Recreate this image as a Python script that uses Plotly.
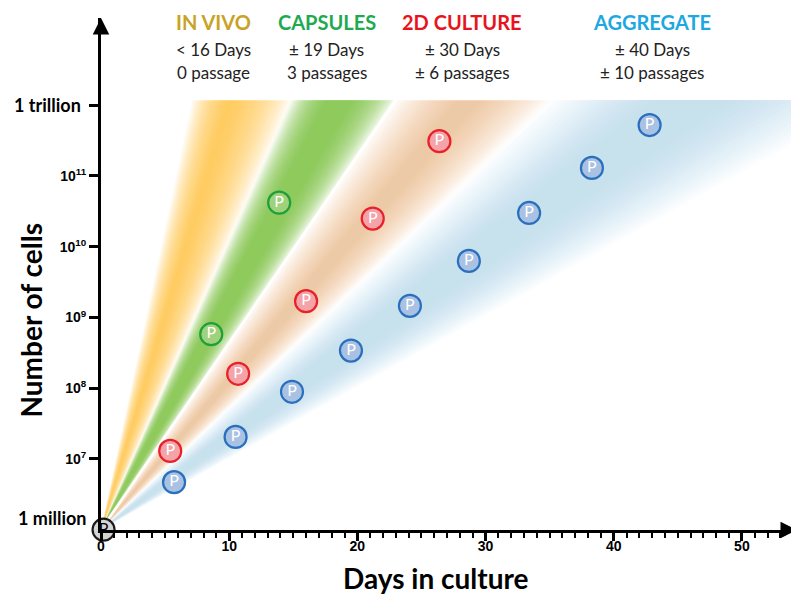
import plotly.graph_objects as go

# passage markers: day in culture / number of cells
START_DAY = [0.2]
START_CELLS = [1.0e6]
GREEN_DAYS = [8.6, 13.9]
GREEN_CELLS = [5.8e8, 4.2e10]
RED_DAYS = [5.4, 10.7, 16.0, 21.2, 26.4]
RED_CELLS = [1.3e7, 1.6e8, 1.7e9, 2.5e10, 3.1e11]
BLUE_DAYS = [5.7, 10.5, 14.9, 19.5, 24.1, 28.7, 33.4, 38.3, 42.8]
BLUE_CELLS = [4.7e6, 2.05e7, 8.9e7, 3.4e8, 1.46e9, 6.3e9, 3.0e10, 1.3e11, 5.25e11]

# growth fans: days needed to go from 1 million to 1 trillion cells
FAN_LOW = [7.05, 14.7, 22.7, 34.7]
FAN_CORE = [9.9, 18.3, 29.0, 43.0]
FAN_HIGH = [14.7, 22.7, 34.7, 59.4]

HEAD_NAMES = ['IN VIVO', 'CAPSULES', '2D CULTURE', 'AGGREGATE']
HEAD_DAYS = ['< 16 Days', '± 19 Days', '± 30 Days', '± 40 Days']
HEAD_PASSAGES = ['0 passage', '3 passages', '± 6 passages', '± 10 passages']
HEAD_X = [8.8, 17.6, 28.2, 43.0]

X_TICKS = [0, 10, 20, 30, 40, 50]
Y_TICKS = [1e7, 1e8, 1e9, 1e10, 1e11, 1e12]
Y_TICK_TEXT = ['10<sup>7</sup>', '10<sup>8</sup>', '10<sup>9</sup>',
               '10<sup>10</sup>', '10<sup>11</sup>', '']

FAN_RGB = ['250,200,55', '130,200,70', '244,170,120', '160,198,235']
FAN_ALPHA = [0.78, 0.85, 0.6, 0.55]
FAN_SOFT = [(1.0, 1.0), (0.8, 0.8), (0.8, 1.0), (1.0, 0.7)]  # fade width on (upper, lower) side
HEAD_COLORS = ['#c9a227', '#1faa50', '#e8141c', '#1ea8e0']

LOG_TOP = 12.07  # fans stop just above 1 trillion
TOP = 10 ** LOG_TOP
SCALE = (LOG_TOP - 6) / 6

fig = go.Figure()


def add_fan(lo, core, hi, rgb, amax, soft, layers=18):
    a = 1 - (1 - amax) ** (1 / layers)
    for j in range(layers):
        w = (j + 1) / layers
        left = lo + soft[0] * (1 - w) * (core - lo)
        right = hi - soft[1] * (1 - w) * (hi - core)
        fig.add_trace(go.Scatter(x=[0, left * SCALE, right * SCALE, 0],
                                 y=[1e6, TOP, TOP, 1e6],
                                 mode='lines', fill='toself',
                                 fillcolor='rgba({},{:.3f})'.format(rgb, a),
                                 line=dict(width=0), hoverinfo='skip'))


for i in range(len(FAN_CORE)):
    add_fan(FAN_LOW[i], FAN_CORE[i], FAN_HIGH[i], FAN_RGB[i], FAN_ALPHA[i], FAN_SOFT[i])

# crisp white line between capsules and 2D culture
fig.add_trace(go.Scatter(x=[0, FAN_HIGH[1] * SCALE], y=[1e6, TOP], mode='lines',
                         line=dict(color='white', width=2.5), hoverinfo='skip'))


def add_passages(days, cells, fill, edge, text_color='white'):
    fig.add_trace(go.Scatter(x=days, y=cells, mode='markers+text',
                             text=['P'] * len(days), textposition='middle center',
                             textfont=dict(family='Lato', size=16, color=text_color),
                             marker=dict(size=22, color=fill, line=dict(color=edge, width=2.2)),
                             cliponaxis=False, hoverinfo='skip'))


add_passages(GREEN_DAYS, GREEN_CELLS, '#9fd27a', '#1f9e3a')
add_passages(RED_DAYS, RED_CELLS, '#f4a3a8', '#e8202a')
add_passages(BLUE_DAYS, BLUE_CELLS, '#a9c1e2', '#2a6fbe')
add_passages(START_DAY, START_CELLS, '#d4d4d4', '#1a1a1a', text_color='black')

annotations = []
for i, name in enumerate(HEAD_NAMES):
    annotations.append(dict(x=HEAD_X[i], y=0.992, xref='x', yref='paper', text=name,
                            xanchor='center', yanchor='middle', showarrow=False,
                            font=dict(family='Lato', size=20, color=HEAD_COLORS[i], weight='bold')))
    annotations.append(dict(x=HEAD_X[i], y=0.939, xref='x', yref='paper', text=HEAD_DAYS[i],
                            xanchor='center', yanchor='middle', showarrow=False,
                            font=dict(family='Lato', size=17, color='#222222')))
    annotations.append(dict(x=HEAD_X[i], y=0.894, xref='x', yref='paper', text=HEAD_PASSAGES[i],
                            xanchor='center', yanchor='middle', showarrow=False,
                            font=dict(family='Lato', size=17, color='#222222')))

label_font = dict(family='Lato', size=18, color='black', weight='bold')
annotations += [
    dict(x=0, y=12, xref='paper', yref='y', xanchor='right', yanchor='middle', xshift=-18,
         text='1 trillion', showarrow=False, font=label_font),
    dict(x=0, y=6, xref='paper', yref='y', xanchor='right', yanchor='middle', xshift=-13, yshift=12,
         text='1 million', showarrow=False, font=label_font),
    dict(x=-0.1, y=0.41, xref='paper', yref='paper', xanchor='center', yanchor='middle',
         text='Number of cells', textangle=-90, showarrow=False,
         font=dict(family='Lato', size=28, color='black', weight='bold')),
    dict(x=0.481, y=-0.094, xref='paper', yref='paper', xanchor='center', yanchor='middle',
         text='Days in culture', showarrow=False,
         font=dict(family='Lato', size=28, color='black', weight='bold')),
    # arrow heads on the axes
    dict(x=0, y=1, xref='paper', yref='paper', ax=0, ay=16, text='', showarrow=True,
         arrowhead=2, arrowsize=1.1, arrowwidth=3, arrowcolor='black'),
    dict(x=1, y=0, xref='paper', yref='paper', ax=-16, ay=0, text='', showarrow=True,
         arrowhead=2, arrowsize=1.1, arrowwidth=3, arrowcolor='black'),
]

# the page adds an 8px body margin, so the figure is drawn 8px smaller
tick_font = dict(family='Liberation Sans', size=14, color='black', weight='bold')
fig.update_layout(width=791, height=589, margin=dict(l=93, r=2, t=10, b=67),
                  plot_bgcolor='white', paper_bgcolor='white', showlegend=False,
                  annotations=annotations)
fig.update_xaxes(range=[0, 54.3], showline=True, linewidth=3, linecolor='black',
                 showgrid=False, zeroline=False, tickmode='array', tickvals=X_TICKS,
                 ticks='outside', ticklen=8, tickwidth=2.5, tickcolor='black', tickfont=tick_font,
                 ticklabelstandoff=-7,
                 minor=dict(tickmode='linear', tick0=0, dtick=1, ticks='outside', ticklen=5,
                            tickwidth=2, tickcolor='black', showgrid=False))
fig.update_yaxes(type='log', range=[5.996, 13.233], showline=True, linewidth=3, linecolor='black',
                 showgrid=False, zeroline=False, tickmode='array', tickvals=Y_TICKS,
                 ticktext=Y_TICK_TEXT, ticks='outside', ticklen=9, tickwidth=2.5,
                 tickcolor='black', tickfont=tick_font)

fig.write_html("out.html")
